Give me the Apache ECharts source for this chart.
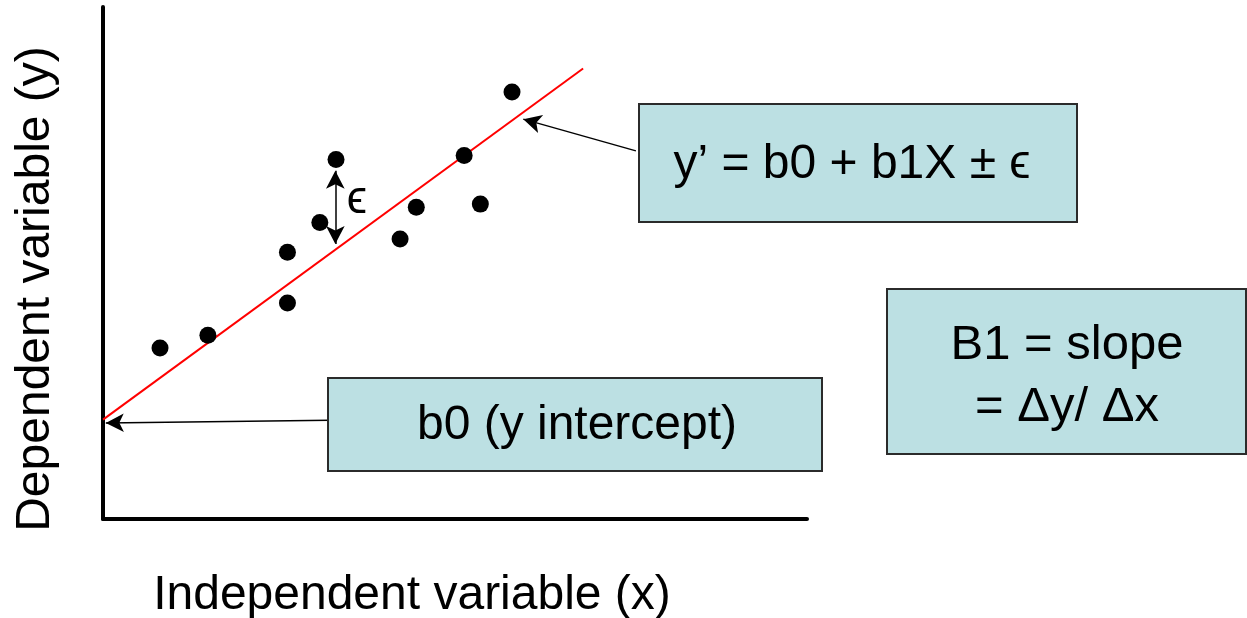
<!DOCTYPE html>
<html>
<head>
<meta charset="utf-8">
<script src="https://cdn.jsdelivr.net/npm/echarts@6/dist/echarts.min.js"></script>
<style>
  html, body { margin: 0; padding: 0; background: #fff; }
  #container { width: 1247px; height: 618px; }
</style>
</head>
<body>
<div id="container"></div>
<script>
  // observed points (x, y) in arbitrary units 0..100
  const pointsX = [8.1, 14.9, 26.2, 26.2, 30.8, 33.1, 42.2, 44.5, 51.3, 53.6, 58.1]
  const pointsY = [33.4, 35.9, 52.1, 42.2, 57.9, 70.2, 54.7, 60.9, 71.0, 61.5, 83.4]
  // fitted line, start and end
  const lineX = [0, 68.2]
  const lineY = [19.4, 88.0]
  // error arrow (epsilon) between point and line
  const epsX = 33.0
  const epsY = [68.0, 53.7]
  // callout arrows: [tail, tip]
  const slopeArrow = [[75.7, 71.9], [59.7, 78.1]]
  const interceptArrow = [[32.2, 19.3], [0.4, 18.75]]

  const font = "'Liberation Sans', Arial, 'DejaVu Sans', sans-serif"
  const boxFill = '#bce0e3'
  const boxStroke = '#2b2b2b'

  const dom = document.getElementById('container')
  const myChart = echarts.init(dom, null, { renderer: 'canvas' })

  const scatterData = pointsX.map((x, i) => [x, pointsY[i]])
  const lineData = lineX.map((x, i) => [x, lineY[i]])

  function box(x, y, w, h) {
    return {
      type: 'rect',
      shape: { x: x, y: y, width: w, height: h },
      style: { fill: boxFill, stroke: boxStroke, lineWidth: 2 },
      z: 10
    }
  }
  function label(x, y, text, size, extra) {
    return Object.assign({
      type: 'text', x: x, y: y, z: 11,
      style: { text: text, font: size + 'px ' + font, fill: '#000', align: 'center', verticalAlign: 'middle', lineHeight: 62 }
    }, extra || {})
  }

  myChart.setOption({
    animation: false,
    grid: { left: 103, top: 7, right: 440, bottom: 99 },
    xAxis: {
      type: 'value', min: 0, max: 100,
      axisLine: { show: true, lineStyle: { color: '#000', width: 4 } },
      axisTick: { show: false }, axisLabel: { show: false }, splitLine: { show: false }
    },
    yAxis: {
      type: 'value', min: 0, max: 100,
      axisLine: { show: true, lineStyle: { color: '#000', width: 4 } },
      axisTick: { show: false }, axisLabel: { show: false }, splitLine: { show: false }
    },
    series: [{
      name: 'fit',
      type: 'line',
      data: lineData,
      showSymbol: false,
      silent: true,
      lineStyle: { color: '#ff0000', width: 2 },
      z: 2
    }, {
      name: 'points',
      type: 'scatter',
      data: scatterData,
      symbolSize: 17,
      itemStyle: { color: '#000', opacity: 1 },
      silent: true,
      z: 3,
      markLine: {
        silent: true,
        animation: false,
        label: { show: false },
        lineStyle: { color: '#000', width: 1.5, type: 'solid', opacity: 1 },
        symbol: ['none', 'arrow'],
        symbolSize: [14, 18],
        data: [
          [{ coord: [epsX, epsY[0]], symbol: 'arrow' }, { coord: [epsX, epsY[1]] }],
          [{ coord: slopeArrow[0] }, { coord: slopeArrow[1] }],
          [{ coord: interceptArrow[0] }, { coord: interceptArrow[1] }]
        ]
      }
    }],
    graphic: [
      box(639, 104, 438, 118),
      label(852, 165, 'y’ = b0 + b1X ± ϵ', 48),
      box(887, 289, 359, 165),
      label(1067, 376, 'B1 = slope\n= Δy/ Δx', 49),
      box(328, 378, 494, 93),
      label(577, 426, 'b0 (y intercept)', 48),
      label(357, 200, 'ϵ', 46),
      label(412, 596, 'Independent variable (x)', 48),
      label(36, 289, 'Dependent variable (y)', 48, { rotation: Math.PI / 2 })
    ]
  })
</script>
</body>
</html>
